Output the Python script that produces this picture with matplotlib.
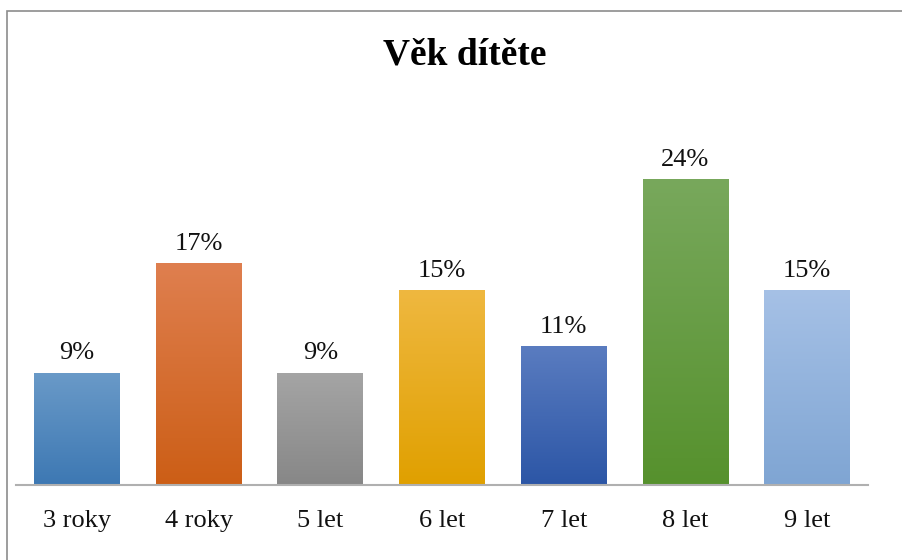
import matplotlib
matplotlib.use("Agg")
import matplotlib.pyplot as plt
from matplotlib.colors import LinearSegmentedColormap
from matplotlib.patches import Rectangle
import numpy as np

categories = ["3 roky", "4 roky", "5 let", "6 let", "7 let", "8 let", "9 let"]
shares = [8.8, 17.4, 8.8, 15.3, 10.9, 24.0, 15.3]
labels = ["9%", "17%", "9%", "15%", "11%", "24%", "15%"]
top_colors = ["#6a9ac8", "#df7f4f", "#a5a5a5", "#efb840", "#5a7cc0", "#78a85c", "#a6c1e6"]
bottom_colors = ["#3d78b3", "#cc5e16", "#878787", "#e0a000", "#2c56a6", "#56912d", "#7fa5d3"]

plt.rcParams["font.family"] = ["Liberation Serif", "DejaVu Serif"]

W, H = 902, 560
fig = plt.figure(figsize=(W / 100, H / 100), dpi=100)
ax = fig.add_axes([16 / W, 1 - 485 / H, (868 - 16) / W, (485 - 100) / H])

x = np.arange(len(categories))
bar_w = 0.705
bars = ax.bar(x, shares, width=bar_w, color="none", edgecolor="none")

# vertical gradient inside each bar
grad = np.linspace(0, 1, 256).reshape(-1, 1)
for b, ctop, cbot in zip(bars, top_colors, bottom_colors):
    cmap = LinearSegmentedColormap.from_list("g", [cbot, ctop])
    x0, y0 = b.get_x(), b.get_y()
    im = ax.imshow(grad, cmap=cmap, origin="lower", aspect="auto",
                   extent=[x0, x0 + b.get_width(), y0, y0 + b.get_height()],
                   interpolation="bicubic", zorder=2)
    im.set_clip_path(b)

for xi, v, lab in zip(x, shares, labels):
    ax.annotate(lab, (xi, v), xytext=(0, 6), textcoords="offset points",
                ha="center", va="bottom", fontsize=19, color="#111111")

ax.set_xlim(-0.5, len(categories) - 0.5)
ax.set_ylim(0, 30.2)
ax.set_yticks([])
ax.set_xticks(x)
ax.set_xticklabels(categories, fontsize=19, color="#111111")
ax.tick_params(axis="x", length=0, pad=18)
for s in ["top", "right", "left"]:
    ax.spines[s].set_visible(False)
ax.spines["bottom"].set_color("#b0b0b0")
ax.spines["bottom"].set_linewidth(1.5)
ax.spines["bottom"].set_zorder(5)

fig.text(465 / W, 1 - 55 / H, "Věk dítěte", ha="center", va="center",
         fontsize=27, fontweight="bold", color="#000000")

# chart frame (top and left edges visible)
fig.add_artist(Rectangle((6.5 / W, -0.1), 2.0, 1 - 11 / H + 0.1,
                         transform=fig.transFigure, fill=False,
                         edgecolor="#8c8c8c", linewidth=1.2))

fig.savefig("out.png", dpi=100)
